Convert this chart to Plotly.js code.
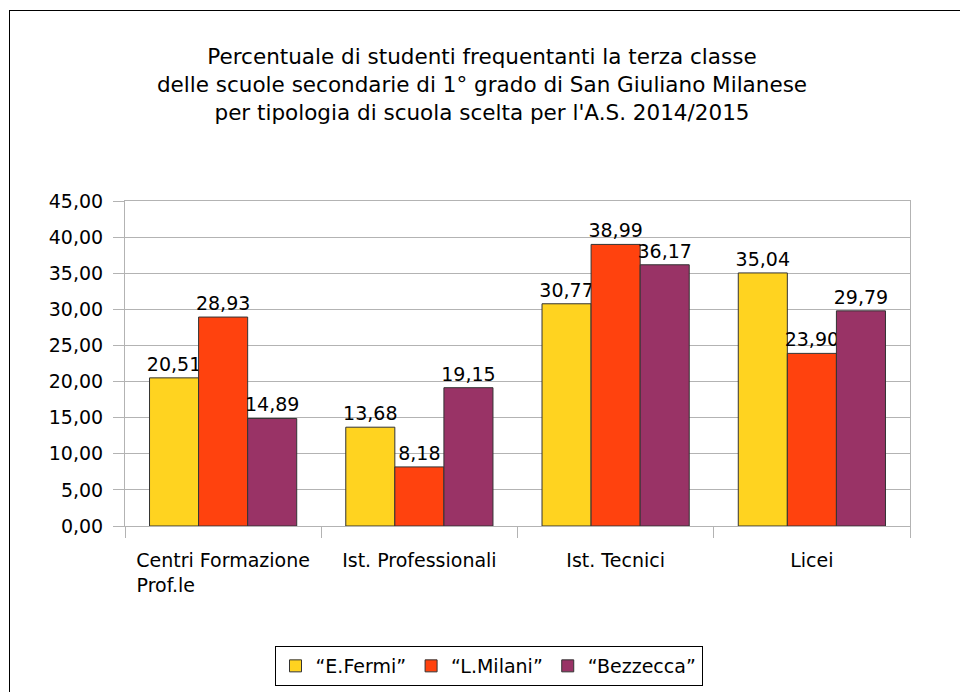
<!DOCTYPE html>
<html>
<head>
<meta charset="utf-8">
<script src="https://cdn.plot.ly/plotly-3.0.1.min.js"></script>
<style>
  html, body { margin: 0; padding: 0; background: #ffffff; }
  #wrap { position: relative; width: 960px; height: 692px; overflow: hidden; }
  #chart { position: absolute; left: 0; top: 0; width: 960px; height: 692px; }
  #frame { position: absolute; left: 9px; top: 10px; width: 1000px; height: 800px;
           border-left: 1px solid #000; border-top: 1px solid #000; pointer-events: none; }
</style>
</head>
<body>
<div id="wrap">
  <div id="chart"></div>
  <div id="frame"></div>
</div>
<script>
const categories = [
  "Centri Formazione<br>Prof.le" + "\u00a0".repeat(19),
  "Ist. Professionali",
  "Ist. Tecnici",
  "Licei"
];
const seriesNames = ["\u201cE.Fermi\u201d", "\u201cL.Milani\u201d", "\u201cBezzecca\u201d"];
const fermi = [20.51, 13.68, 30.77, 35.04];
const milani = [28.93, 8.18, 38.99, 23.90];
const bezzecca = [14.89, 19.15, 36.17, 29.79];
const colors = ["#FFD320", "#FF420E", "#993366"];
const yTicks = [0, 5, 10, 15, 20, 25, 30, 35, 40, 45];

const FONT = "DejaVu Sans, Verdana, sans-serif";
const seriesValues = [fermi, milani, bezzecca];

const traces = seriesValues.map((vals, i) => ({
  type: "bar",
  name: seriesNames[i],
  x: categories,
  y: vals,
  marker: { color: colors[i], line: { color: "#333333", width: 1 } },
  texttemplate: "%{y:.2f}",
  textposition: "outside",
  constraintext: "none",
  cliponaxis: false,
  textfont: { family: FONT, size: 19, color: "#000000" },
  hoverinfo: "skip"
}));

const layout = {
  width: 960,
  height: 692,
  separators: ",.",
  paper_bgcolor: "#ffffff",
  plot_bgcolor: "#ffffff",
  font: { family: FONT, size: 19, color: "#000000" },
  margin: { l: 125, r: 50, t: 201, b: 166, pad: 0, autoexpand: false },
  barmode: "group",
  bargap: 0.25,
  bargroupgap: 0,
  title: {
    text: "Percentuale di studenti frequentanti la terza classe<br>delle scuole secondarie di 1° grado di San Giuliano Milanese<br>per tipologia di scuola scelta per l'A.S. 2014/2015",
    font: { family: FONT, size: 21.5, color: "#000000" },
    x: 482 / 960,
    xanchor: "center",
    xref: "container",
    yref: "container",
    y: 1 - 64 / 692,
    yanchor: "top"
  },
  xaxis: {
    type: "category",
    showline: true,
    mirror: true,
    linecolor: "#b3b3b3",
    linewidth: 1,
    ticks: "outside",
    tickson: "boundaries",
    ticklen: 11,
    tickcolor: "#b3b3b3",
    tickwidth: 1,
    ticklabelstandoff: 17,
    tickfont: { family: FONT, size: 19, color: "#000000" },
    showgrid: false,
    fixedrange: true
  },
  yaxis: {
    range: [0, 45],
    tickvals: yTicks,
    tickformat: ".2f",
    showline: true,
    mirror: true,
    linecolor: "#b3b3b3",
    linewidth: 1,
    ticks: "outside",
    ticklen: 11,
    tickcolor: "#b3b3b3",
    tickwidth: 1,
    ticklabelstandoff: 6,
    showgrid: true,
    gridcolor: "#b3b3b3",
    gridwidth: 1,
    zeroline: false,
    tickfont: { family: FONT, size: 19, color: "#000000" },
    fixedrange: true
  },
  showlegend: true,
  legend: {
    orientation: "h",
    xref: "container",
    yref: "container",
    x: 488.5 / 960,
    xanchor: "center",
    y: 1 - 646 / 692,
    yanchor: "top",
    bordercolor: "#000000",
    borderwidth: 1,
    bgcolor: "#ffffff",
    font: { family: FONT, size: 19, color: "#000000" },
    traceorder: "normal"
  }
};

Plotly.newPlot("chart", traces, layout, { displayModeBar: false, staticPlot: true });
</script>
</body>
</html>
